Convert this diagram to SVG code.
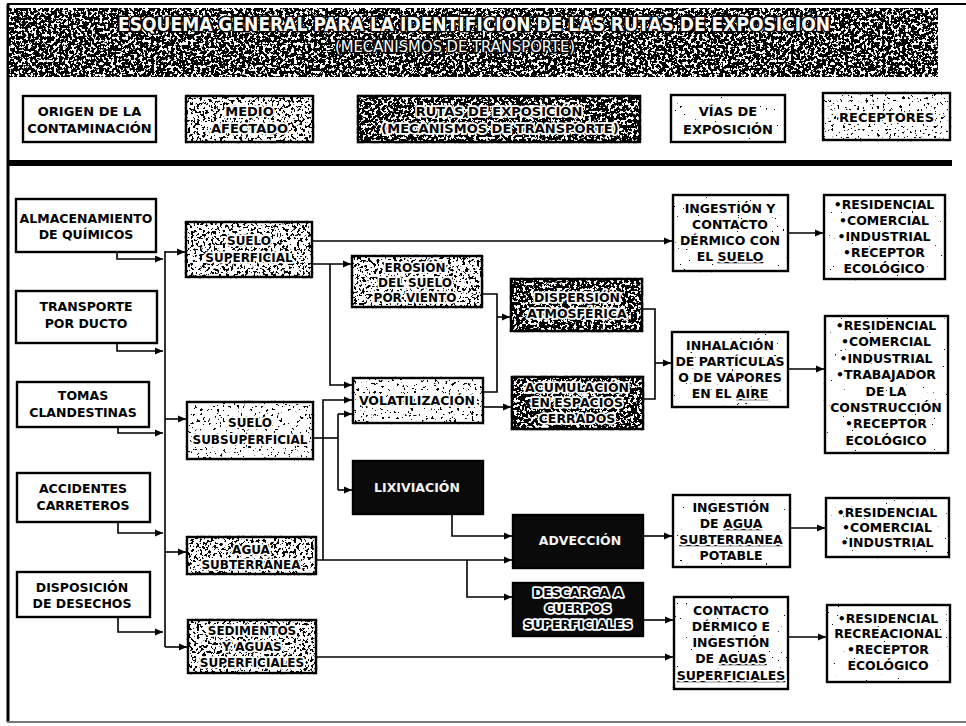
<svg xmlns="http://www.w3.org/2000/svg" width="966" height="726" viewBox="0 0 966 726">
<style>
.bx{stroke:#000;stroke-width:2.4}
.wh{fill:#fff}
.bk{fill:#0a0a0a}
.t{font-family:"DejaVu Sans","Liberation Sans",sans-serif;font-weight:bold;font-size:12.5px;text-anchor:middle;fill:#000}
.s12{font-size:12px}
.s13{font-size:13px}
.h{stroke:#fff;stroke-width:3.5;paint-order:stroke;stroke-linejoin:round}
.o{fill:#f2f2f2}
.u{text-decoration:underline}
.ttl{font-family:"DejaVu Sans","Liberation Sans",sans-serif;font-weight:bold;fill:#fff;stroke:#000;stroke-width:3.2;paint-order:stroke;stroke-linejoin:round;text-anchor:middle}
.sub{font-family:"DejaVu Sans Condensed","DejaVu Sans",sans-serif;font-weight:normal;fill:#fff;stroke:#000;stroke-width:2.8;paint-order:stroke;stroke-linejoin:round;text-anchor:middle}
.c{fill:none;stroke:#000;stroke-width:1.6}
.a{marker-end:url(#ar)}
</style>
<defs>
<marker id="ar" markerUnits="userSpaceOnUse" markerWidth="9" markerHeight="8" refX="8" refY="4" orient="auto"><path d="M0,0.5 L8,4 L0,7.5 z" fill="#000"/></marker>
<filter id="nL" x="-3%" y="-6%" width="106%" height="112%" color-interpolation-filters="sRGB">
<feTurbulence type="fractalNoise" baseFrequency="0.35" numOctaves="3" seed="4" result="t"/>
<feColorMatrix in="t" type="matrix" values="0 0 0 0 0 0 0 0 0 0 0 0 0 0 0 1 0 0 0 0" result="m"/>
<feComponentTransfer in="m" result="th"><feFuncA type="linear" slope="40" intercept="-31.5"/></feComponentTransfer>
<feComposite in="th" in2="SourceAlpha" operator="in" result="d"/>
<feMerge><feMergeNode in="SourceGraphic"/><feMergeNode in="d"/></feMerge>
</filter>
<filter id="nV" x="-3%" y="-6%" width="106%" height="112%" color-interpolation-filters="sRGB">
<feTurbulence type="fractalNoise" baseFrequency="0.35" numOctaves="3" seed="6" result="t"/>
<feColorMatrix in="t" type="matrix" values="0 0 0 0 0 0 0 0 0 0 0 0 0 0 0 1 0 0 0 0" result="m"/>
<feComponentTransfer in="m" result="th"><feFuncA type="linear" slope="40" intercept="-26.5"/></feComponentTransfer>
<feComposite in="th" in2="SourceAlpha" operator="in" result="d"/>
<feMerge><feMergeNode in="SourceGraphic"/><feMergeNode in="d"/></feMerge>
</filter>
<filter id="nM" x="-3%" y="-6%" width="106%" height="112%" color-interpolation-filters="sRGB">
<feTurbulence type="fractalNoise" baseFrequency="0.35" numOctaves="3" seed="9" result="t"/>
<feColorMatrix in="t" type="matrix" values="0 0 0 0 0 0 0 0 0 0 0 0 0 0 0 1 0 0 0 0" result="m"/>
<feComponentTransfer in="m" result="th"><feFuncA type="linear" slope="40" intercept="-22.5"/></feComponentTransfer>
<feComposite in="th" in2="SourceAlpha" operator="in" result="d"/>
<feMerge><feMergeNode in="SourceGraphic"/><feMergeNode in="d"/></feMerge>
</filter>
<filter id="nD" x="-3%" y="-6%" width="106%" height="112%" color-interpolation-filters="sRGB">
<feTurbulence type="fractalNoise" baseFrequency="0.35" numOctaves="3" seed="2" result="t"/>
<feColorMatrix in="t" type="matrix" values="0 0 0 0 0 0 0 0 0 0 0 0 0 0 0 1 0 0 0 0" result="m"/>
<feComponentTransfer in="m" result="th"><feFuncA type="linear" slope="40" intercept="-17.5"/></feComponentTransfer>
<feComposite in="th" in2="SourceAlpha" operator="in" result="d"/>
<feMerge><feMergeNode in="SourceGraphic"/><feMergeNode in="d"/></feMerge>
</filter>
</defs>
<rect width="966" height="726" fill="#fff"/>
<g id="frame">
<line x1="7" y1="4" x2="966" y2="4" stroke="#000" stroke-width="2"/>
<line x1="8" y1="4" x2="8" y2="722" stroke="#000" stroke-width="3"/>
<line x1="7" y1="722" x2="966" y2="722" stroke="#777" stroke-width="2"/>
<rect x="8" y="160" width="944" height="6" fill="#000"/>
</g>
<g id="title">
<rect x="9" y="8" width="929" height="69" fill="#fff" filter="url(#nD)"/>
<text class="ttl" x="474" y="31" font-size="19" textLength="712" lengthAdjust="spacingAndGlyphs">ESQUEMA GENERAL PARA LA IDENTIFICIÓN DE LAS RUTAS DE EXPOSICIÓN</text>
<text class="sub" x="455" y="52" font-size="15" textLength="240" lengthAdjust="spacingAndGlyphs">(MECANISMOS DE TRANSPORTE)</text>
</g>
<g id="hdr-origen"><rect class="bx wh" x="23" y="96" width="133" height="46"/><text class="t s13" x="89.5" y="116">ORIGEN DE LA</text><text class="t s13" x="89.5" y="133">CONTAMINACIÓN</text></g>
<g id="hdr-medio"><rect class="bx wh" x="186" y="96" width="127" height="46" filter="url(#nM)"/><text class="t s13 h" x="249.5" y="116">MEDIO</text><text class="t s13 h" x="249.5" y="133">AFECTADO</text></g>
<g id="hdr-rutas"><rect class="bx wh" x="358" y="96" width="282" height="46" filter="url(#nD)"/><text class="t s13 h" x="499" y="116">RUTAS DE EXPOSICIÓN</text><text class="t s13 h" x="500" y="133">(MECANISMOS DE TRANSPORTE)</text></g>
<g id="hdr-vias"><rect class="bx wh" x="671" y="95" width="114" height="47" filter="url(#nL)"/><text class="t s13 h" x="728" y="116">VÍAS DE</text><text class="t s13 h" x="728" y="134">EXPOSICIÓN</text></g>
<g id="hdr-receptores"><rect class="bx wh" x="823" y="93" width="127" height="47" filter="url(#nV)"/><text class="t s13 h" x="886.5" y="122">RECEPTORES</text></g>

<g id="connectors">
<path class="c a" d="M117,252 V259 H163"/>
<path class="c a" d="M117,343 V351 H163"/>
<path class="c a" d="M118,427 V433 H163"/>
<path class="c a" d="M118,522 V533 H163"/>
<path class="c a" d="M118,617 V632 H163"/>
<path class="c" d="M165,251 V647"/>
<path class="c a" d="M165,252 H185"/>
<path class="c a" d="M165,419 H186"/>
<path class="c a" d="M165,552 H186"/>
<path class="c a" d="M165,647 H187"/>
<path class="c a" d="M312,241 H672"/>
<path class="c a" d="M312,264 H351"/>
<path class="c a" d="M330,264 V385 H352"/>
<path class="c" d="M313,438 H338"/>
<path class="c" d="M338,414 V490"/>
<path class="c a" d="M338,414 H352"/>
<path class="c a" d="M338,490 H352"/>
<path class="c a" d="M316,560 H512"/>
<path class="c a" d="M323,560 V400 H352"/>
<path class="c a" d="M467,560 V597 H512"/>
<path class="c" d="M482,294 H497 V392 H483"/>
<path class="c a" d="M497,317 H510"/>
<path class="c a" d="M483,407 H511"/>
<path class="c" d="M642,309 H655 V399 H643"/>
<path class="c a" d="M655,363 H671"/>
<path class="c a" d="M452,514 V536 H512"/>
<path class="c a" d="M643,536 H672"/>
<path class="c a" d="M643,620 H673"/>
<path class="c a" d="M316,657 H673"/>
<path class="c a" d="M788,233 H823"/>
<path class="c a" d="M788,369 H824"/>
<path class="c a" d="M790,528 H825"/>
<path class="c a" d="M788,637 H826"/>
</g>

<g id="n-almacenamiento"><rect class="bx wh" x="16" y="199" width="140" height="53"/><text class="t" x="86" y="223">ALMACENAMIENTO</text><text class="t" x="86" y="239">DE QUÍMICOS</text></g>
<g id="n-transporte"><rect class="bx wh" x="16" y="291" width="141" height="52"/><text class="t" x="86" y="311">TRANSPORTE</text><text class="t" x="86" y="328">POR DUCTO</text></g>
<g id="n-tomas"><rect class="bx wh" x="17" y="382" width="132" height="45"/><text class="t" x="83" y="400">TOMAS</text><text class="t" x="83" y="417">CLANDESTINAS</text></g>
<g id="n-accidentes"><rect class="bx wh" x="17" y="473" width="133" height="49"/><text class="t" x="83" y="493">ACCIDENTES</text><text class="t" x="83" y="510">CARRETEROS</text></g>
<g id="n-disposicion"><rect class="bx wh" x="17" y="572" width="133" height="45"/><text class="t" x="82" y="592">DISPOSICIÓN</text><text class="t" x="82" y="608">DE DESECHOS</text></g>

<g id="n-suelo-sup"><rect class="bx wh" x="186" y="222" width="126" height="55" filter="url(#nM)"/><text class="t s12 h" x="249" y="245">SUELO</text><text class="t s12 h" x="249" y="262">SUPERFICIAL</text></g>
<g id="n-suelo-subsup"><rect class="bx wh" x="187" y="402" width="126" height="57" filter="url(#nV)"/><text class="t s12 h" x="250" y="427">SUELO</text><text class="t s12 h" x="250" y="444">SUBSUPERFICIAL</text></g>
<g id="n-agua-sub"><rect class="bx wh" x="187" y="537" width="129" height="37" filter="url(#nM)"/><text class="t s12 h" x="251" y="554">AGUA</text><text class="t s12 h" x="251" y="569">SUBTERRÁNEA</text></g>
<g id="n-sedimentos"><rect class="bx wh" x="188" y="620" width="128" height="53" filter="url(#nM)"/><text class="t s12 h" x="252" y="635">SEDIMENTOS</text><text class="t s12 h" x="252" y="651">Y AGUAS</text><text class="t s12 h" x="252" y="667">SUPERFICIALES</text></g>

<g id="n-erosion"><rect class="bx wh" x="352" y="256" width="130" height="51" filter="url(#nM)"/><text class="t s12 h" x="415" y="272">EROSIÓN</text><text class="t s12 h" x="415" y="287">DEL SUELO</text><text class="t s12 h" x="415" y="302">POR VIENTO</text></g>
<g id="n-volatilizacion"><rect class="bx wh" x="353" y="378" width="130" height="45" filter="url(#nV)"/><text class="t h" x="417" y="405">VOLATILIZACIÓN</text></g>
<g id="n-lixiviacion"><rect class="bx bk" x="353" y="461" width="130" height="53"/><text class="t o" x="417" y="492">LIXIVIACIÓN</text></g>
<g id="n-dispersion"><rect class="bx wh" x="511" y="279" width="131" height="52" filter="url(#nD)"/><text class="t h" x="577" y="302">DISPERSIÓN</text><text class="t h" x="577" y="318">ATMOSFÉRICA</text></g>
<g id="n-acumulacion"><rect class="bx wh" x="512" y="377" width="131" height="52" filter="url(#nD)"/><text class="t h" x="577" y="392">ACUMULACIÓN</text><text class="t h" x="577" y="407">EN ESPACIOS</text><text class="t h" x="577" y="423">CERRADOS</text></g>
<g id="n-adveccion"><rect class="bx bk" x="513" y="515" width="130" height="53"/><text class="t o" x="580" y="545">ADVECCIÓN</text></g>
<g id="n-descarga"><rect class="bx bk" x="513" y="583" width="130" height="53"/><text class="t h" x="578" y="597">DESCARGA A</text><text class="t h" x="578" y="613">CUERPOS</text><text class="t h" x="578" y="629">SUPERFICIALES</text></g>

<g id="n-via-suelo"><rect class="bx wh" x="673" y="195" width="115" height="76" filter="url(#nL)"/><text class="t h" x="730" y="213">INGESTIÓN Y</text><text class="t h" x="730" y="229">CONTACTO</text><text class="t h" x="730" y="245">DÉRMICO CON</text><text class="t h" x="730" y="261">EL <tspan class="u">SUELO</tspan></text></g>
<g id="n-via-aire"><rect class="bx wh" x="672" y="332" width="116" height="75" filter="url(#nL)"/><text class="t h" x="730" y="350">INHALACIÓN</text><text class="t h" x="730" y="366">DE PARTÍCULAS</text><text class="t h" x="730" y="382">O DE VAPORES</text><text class="t h" x="730" y="398">EN EL <tspan class="u">AIRE</tspan></text></g>
<g id="n-via-agua-sub"><rect class="bx wh" x="673" y="495" width="117" height="72" filter="url(#nL)"/><text class="t h" x="731" y="512">INGESTIÓN</text><text class="t h" x="731" y="528">DE <tspan class="u">AGUA</tspan></text><text class="t h u" x="731" y="544">SUBTERRANEA</text><text class="t h" x="731" y="560">POTABLE</text></g>
<g id="n-via-agua-sup"><rect class="bx wh" x="674" y="597" width="114" height="92" filter="url(#nL)"/><text class="t h" x="731" y="615">CONTACTO</text><text class="t h" x="731" y="631">DÉRMICO E</text><text class="t h" x="731" y="647">INGESTIÓN</text><text class="t h" x="731" y="663">DE <tspan class="u">AGUAS</tspan></text><text class="t h u" x="731" y="680">SUPERFICIALES</text></g>

<g id="n-rec-1"><rect class="bx wh" x="824" y="195" width="121" height="84" filter="url(#nL)"/><text class="t h" x="884" y="209">•RESIDENCIAL</text><text class="t h" x="884" y="225">•COMERCIAL</text><text class="t h" x="884" y="241">•INDUSTRIAL</text><text class="t h" x="884" y="257">•RECEPTOR</text><text class="t h" x="884" y="273">ECOLÓGICO</text></g>
<g id="n-rec-2"><rect class="bx wh" x="825" y="316" width="123" height="137" filter="url(#nL)"/><text class="t h" x="886" y="330">•RESIDENCIAL</text><text class="t h" x="886" y="346">•COMERCIAL</text><text class="t h" x="886" y="363">•INDUSTRIAL</text><text class="t h" x="886" y="379">•TRABAJADOR</text><text class="t h" x="886" y="396">DE LA</text><text class="t h" x="886" y="412">CONSTRUCCIÓN</text><text class="t h" x="886" y="428">•RECEPTOR</text><text class="t h" x="886" y="445">ECOLÓGICO</text></g>
<g id="n-rec-3"><rect class="bx wh" x="826" y="498" width="123" height="59" filter="url(#nL)"/><text class="t h" x="887" y="517">•RESIDENCIAL</text><text class="t h" x="887" y="532">•COMERCIAL</text><text class="t h" x="887" y="547">•INDUSTRIAL</text></g>
<g id="n-rec-4"><rect class="bx wh" x="827" y="605" width="123" height="77" filter="url(#nL)"/><text class="t h" x="888" y="623">•RESIDENCIAL</text><text class="t h" x="888" y="638">RECREACIONAL</text><text class="t h" x="888" y="654">•RECEPTOR</text><text class="t h" x="888" y="670">ECOLÓGICO</text></g>
</svg>
